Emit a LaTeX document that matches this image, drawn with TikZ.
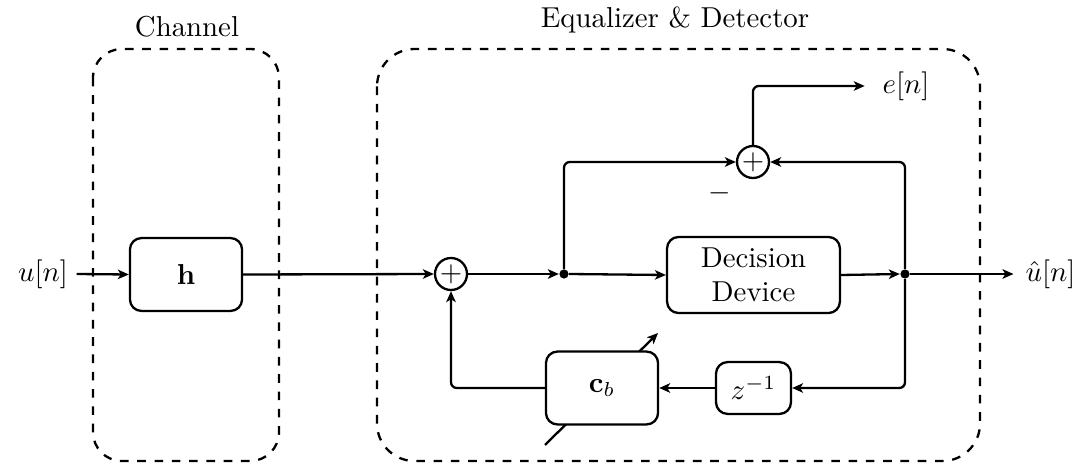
\documentclass[tikz,border=0pt]{standalone}
\usetikzlibrary{arrows.meta}
\begin{document}
\begin{tikzpicture}[x=0.347pt,y=-0.347pt,
 blk/.style={draw,thick,rounded corners=4pt,inner sep=0pt,align=center},
 sumn/.style={draw,thick,circle,minimum size=11.1pt,inner sep=0pt},
 grp/.style={draw,thick,dashed,rounded corners=10pt},
 conn/.style={thick,rounded corners=2pt},
 arr/.style={conn,-{Stealth[length=3.8pt,width=3.3pt,inset=1pt]}},
 dotn/.style={circle,fill,inner sep=0pt,minimum size=3.2pt},
 lbl/.style={inner sep=0pt}]
\useasboundingbox (0,0) rectangle (1082,463);
% groups
\draw[grp] (93,49) rectangle (279,461);
\draw[grp,rounded corners=13pt] (377,49) rectangle (980,461);
\node[lbl] (chl) at (187,27) {Channel};
\node[lbl] (eql) at (675,20) {Equalizer \& Detector};
% blocks
\node[lbl] (un) at (43,274) {$u[n]$};
\node[blk,minimum width=38.9pt,minimum height=25.3pt] (h) at (186,274.5) {$\mathbf{h}$};
\node[sumn] (s1) at (451,274) {$+$};
\node[dotn] (d1) at (564,274) {};
\node[blk,minimum width=60pt,minimum height=26.4pt] (dec) at (753.5,275) {Decision\\Device};
\node[dotn] (d2) at (905,274) {};
\node[lbl,anchor=west] (uhat) at (1025,274) {$\hat{u}[n]$};
\node[sumn] (s2) at (753,162) {$+$};
\node[lbl,anchor=west] (en) at (882,86) {$e[n]$};
\node[lbl] (minus) at (720,193) {$-$};
\node[blk,minimum width=26pt,minimum height=18pt] (z) at (753.5,388) {$z^{-1}$};
\coordinate (ta) at (545,445);
\coordinate (tb) at (658,333);
\draw[thick,-{Stealth[length=3.8pt,width=3.3pt,inset=1pt]}] (ta) -- (tb);
\node[blk,fill=white,minimum width=38.9pt,minimum height=25.3pt] (cb) at (602,388) {$\mathbf{c}_b$};
% connectors
\draw[arr] ([xshift=2.8pt]un.east) -- (h.west);
\draw[arr] (h.east) -- (s1.west);
\draw[arr] (s1.east) -- (d1.west);
\draw[arr] (d1.east) -- (dec.west);
\draw[arr] (dec.east) -- (d2.west);
\draw[arr] (d2.east) -- ([xshift=-4pt]uhat.west);
\draw[arr] (d1.north) |- (s2.west);
\draw[arr] (d2.north) |- (s2.east);
\draw[arr] (s2.north) |- ([xshift=-6pt]en.west);
\draw[arr] (d2.south) |- (z.east);
\draw[arr] (z.west) -- (cb.east);
\draw[arr] (cb.west) -| (s1.south);
\end{tikzpicture}
\end{document}
